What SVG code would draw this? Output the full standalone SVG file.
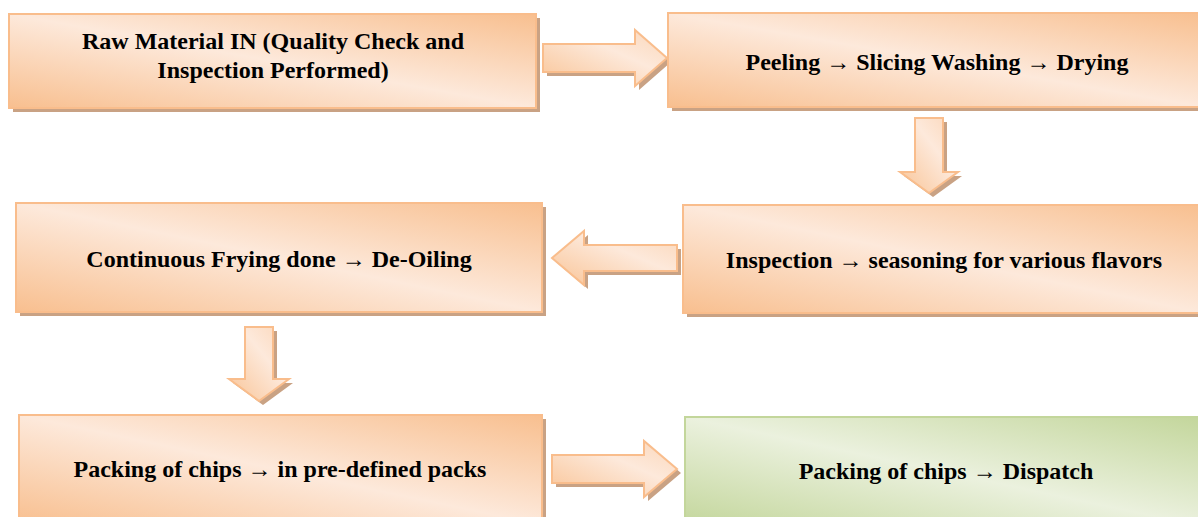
<svg xmlns="http://www.w3.org/2000/svg" width="1198" height="517" viewBox="0 0 1198 517">
  <defs>
    <linearGradient id="gOrange" x1="0" y1="1" x2="1" y2="0">
      <stop offset="0" stop-color="#f8bf8f"/>
      <stop offset="0.5" stop-color="#fde9db"/>
      <stop offset="1" stop-color="#f8bf8f"/>
    </linearGradient>
    <linearGradient id="gGreen" x1="0" y1="1" x2="1" y2="0">
      <stop offset="0" stop-color="#c3d69b"/>
      <stop offset="0.5" stop-color="#ebf1de"/>
      <stop offset="1" stop-color="#c3d69b"/>
    </linearGradient>
    <linearGradient id="gArrow" x1="0" y1="1" x2="1" y2="0">
      <stop offset="0" stop-color="#f9c496"/>
      <stop offset="0.6" stop-color="#fde9db"/>
      <stop offset="1" stop-color="#fbd6b8"/>
    </linearGradient>
  </defs>
  <style>
    .shadow { fill: #c9a284; }
    .box { fill: url(#gOrange); stroke: #f9bd8c; stroke-width: 2; }
    .boxg { fill: url(#gGreen); stroke: #c3d69b; stroke-width: 2; }
    .arrow { fill: url(#gArrow); stroke: #f9bd8c; stroke-width: 2; stroke-linejoin: miter; }
    text { font-family: 'Liberation Serif', 'DejaVu Serif', serif; font-weight: 700; font-size: 24px; fill: #000; text-anchor: middle; }
  </style>
  <rect width="1198" height="517" fill="#ffffff"/>

  <g id="connectors">
    <g id="arrow1">
      <polygon class="shadow" transform="translate(4,4)" points="543,44 635,44 635,30 667,58 635,86 635,72 543,72"/>
      <polygon class="arrow" points="543,44 635,44 635,30 667,58 635,86 635,72 543,72"/>
    </g>
    <g id="arrow2">
      <polygon class="shadow" transform="translate(4,4)" points="915,118 943,118 943,172 958,172 929,193 900,172 915,172"/>
      <polygon class="arrow" points="915,118 943,118 943,172 958,172 929,193 900,172 915,172"/>
    </g>
    <g id="arrow3">
      <polygon class="shadow" transform="translate(4,4)" points="677,245 584,245 584,231 552,258 584,285 584,271 677,271"/>
      <polygon class="arrow" points="677,245 584,245 584,231 552,258 584,285 584,271 677,271"/>
    </g>
    <g id="arrow4">
      <polygon class="shadow" transform="translate(4,4)" points="245,327 273,327 273,379 289,379 259,401 229,379 245,379"/>
      <polygon class="arrow" points="245,327 273,327 273,379 289,379 259,401 229,379 245,379"/>
    </g>
    <g id="arrow5">
      <polygon class="shadow" transform="translate(4,4)" points="552,455 644,455 644,441 677,469 644,497 644,483 552,483"/>
      <polygon class="arrow" points="552,455 644,455 644,441 677,469 644,497 644,483 552,483"/>
    </g>
  </g>

  <g id="node1">
    <rect class="shadow" x="13" y="18" width="527" height="94"/>
    <rect class="box" x="9" y="14" width="527" height="94"/>
    <text x="273" y="49">Raw Material IN (Quality Check and</text>
    <text x="273" y="78">Inspection Performed)</text>
  </g>
  <g id="node2">
    <rect class="shadow" x="672" y="17" width="535" height="94"/>
    <rect class="box" x="668" y="13" width="535" height="94"/>
    <text x="937" y="70">Peeling → Slicing Washing → Drying</text>
  </g>
  <g id="node3">
    <rect class="shadow" x="687" y="209" width="520" height="108"/>
    <rect class="box" x="683" y="205" width="520" height="108"/>
    <text x="944" y="268">Inspection → seasoning for various flavors</text>
  </g>
  <g id="node4">
    <rect class="shadow" x="20" y="207" width="526" height="109"/>
    <rect class="box" x="16" y="203" width="526" height="109"/>
    <text x="279" y="267">Continuous Frying done → De-Oiling</text>
  </g>
  <g id="node5">
    <rect class="shadow" x="23" y="419" width="523" height="110"/>
    <rect class="box" x="19" y="415" width="523" height="110"/>
    <text x="280" y="477">Packing of chips → in pre-defined packs</text>
  </g>
  <g id="node6">
    <rect class="boxg" x="685" y="417" width="520" height="110"/>
    <text x="946" y="479">Packing of chips → Dispatch</text>
  </g>
</svg>
